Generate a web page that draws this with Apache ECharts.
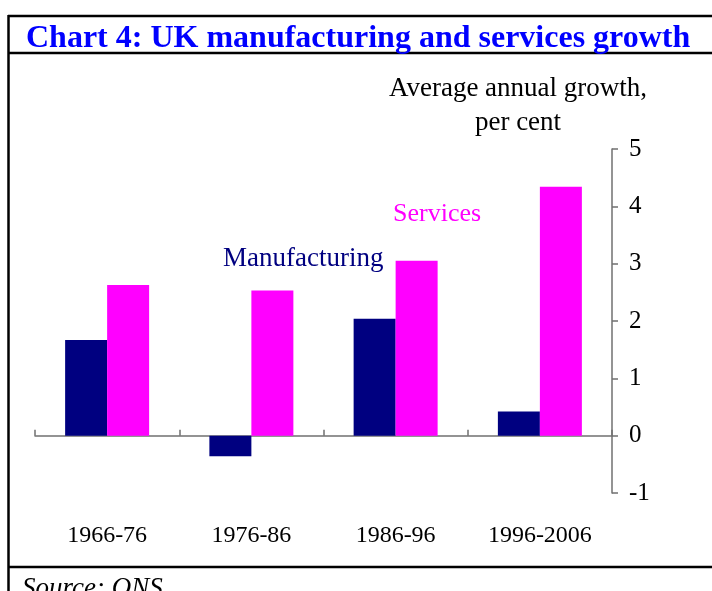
<!DOCTYPE html>
<html>
<head>
<meta charset="utf-8">
<script src="https://cdn.jsdelivr.net/npm/echarts@6/dist/echarts.min.js"></script>
<style>
  html, body { margin: 0; padding: 0; background: #fff; }
  #chart { width: 712px; height: 591px; }
</style>
</head>
<body>
<div id="chart"></div>
<script>
// data
const periods = ['1966-76', '1976-86', '1986-96', '1996-2006'];
const manufacturing = [1.67, -0.36, 2.04, 0.42];
const services = [2.63, 2.53, 3.05, 4.34];
const yTicks = [-1, 0, 1, 2, 3, 4, 5];

const serif = '"Liberation Serif", "Times New Roman", serif';
const navy = '#000080';
const magenta = '#FF00FF';

const myChart = echarts.init(document.getElementById('chart'));

const option = {
  animation: false,
  backgroundColor: '#fff',
  title: {
    text: 'Chart 4: UK manufacturing and services growth',
    left: 21,
    top: 18,
    textStyle: {
      fontFamily: serif,
      fontWeight: 'bold',
      fontSize: 32,
      color: '#0000FF',
    },
  },
  grid: {
    left: 35,
    right: 100,
    top: 149,
    height: 344,
    outerBoundsMode: 'none',
    containLabel: false,
  },
  xAxis: {
    type: 'category',
    data: periods,
    axisLine: { onZero: true, lineStyle: { color: '#707070', width: 1.5 } },
    axisTick: { show: true, inside: true, length: 6, lineStyle: { color: '#707070', width: 1.5 } },
    axisLabel: {
      margin: 31,
      fontFamily: serif,
      fontSize: 24,
      color: '#000',
    },
  },
  yAxis: {
    type: 'value',
    position: 'right',
    min: yTicks[0],
    max: yTicks[yTicks.length - 1],
    interval: 1,
    splitLine: { show: false },
    axisLine: { show: true, lineStyle: { color: '#707070', width: 1.5 } },
    axisTick: { show: true, inside: false, length: 6, lineStyle: { color: '#707070', width: 1.5 } },
    axisLabel: {
      margin: 17,
      fontFamily: serif,
      fontSize: 25,
      color: '#000',
    },
  },
  series: [
    {
      name: 'Manufacturing',
      type: 'bar',
      data: manufacturing,
      barWidth: 42,
      barGap: '0%',
      itemStyle: { color: navy },
    },
    {
      name: 'Services',
      type: 'bar',
      data: services,
      barWidth: 42,
      barGap: '0%',
      itemStyle: { color: magenta },
    },
  ],
  graphic: [
    // frame
    { type: 'line', shape: { x1: 8, y1: 16, x2: 712, y2: 16 }, style: { stroke: '#000', lineWidth: 2.5 } },
    { type: 'line', shape: { x1: 8, y1: 53, x2: 712, y2: 53 }, style: { stroke: '#000', lineWidth: 2.5 } },
    { type: 'line', shape: { x1: 8, y1: 567, x2: 712, y2: 567 }, style: { stroke: '#000', lineWidth: 2.5 } },
    { type: 'line', shape: { x1: 8.5, y1: 15, x2: 8.5, y2: 591 }, style: { stroke: '#000', lineWidth: 2.5 } },
    {
      type: 'text',
      left: 22,
      top: 575,
      style: {
        text: 'Source: ONS',
        font: 'italic 27px ' + serif,
        fill: '#000',
      },
    },
    // axis title
    {
      type: 'text',
      x: 518,
      y: 106,
      style: {
        text: 'Average annual growth,\nper cent',
        font: '27px ' + serif,
        fill: '#000',
        align: 'center',
        verticalAlign: 'middle',
        lineHeight: 34,
      },
    },
    // series labels
    {
      type: 'text',
      x: 223,
      y: 259,
      style: {
        text: 'Manufacturing',
        font: '27px ' + serif,
        fill: navy,
        verticalAlign: 'middle',
      },
    },
    {
      type: 'text',
      x: 393,
      y: 214,
      style: {
        text: 'Services',
        font: '26px ' + serif,
        fill: magenta,
        verticalAlign: 'middle',
      },
    },
  ],
};

myChart.setOption(option);
window.addEventListener('resize', myChart.resize);
</script>
</body>
</html>
